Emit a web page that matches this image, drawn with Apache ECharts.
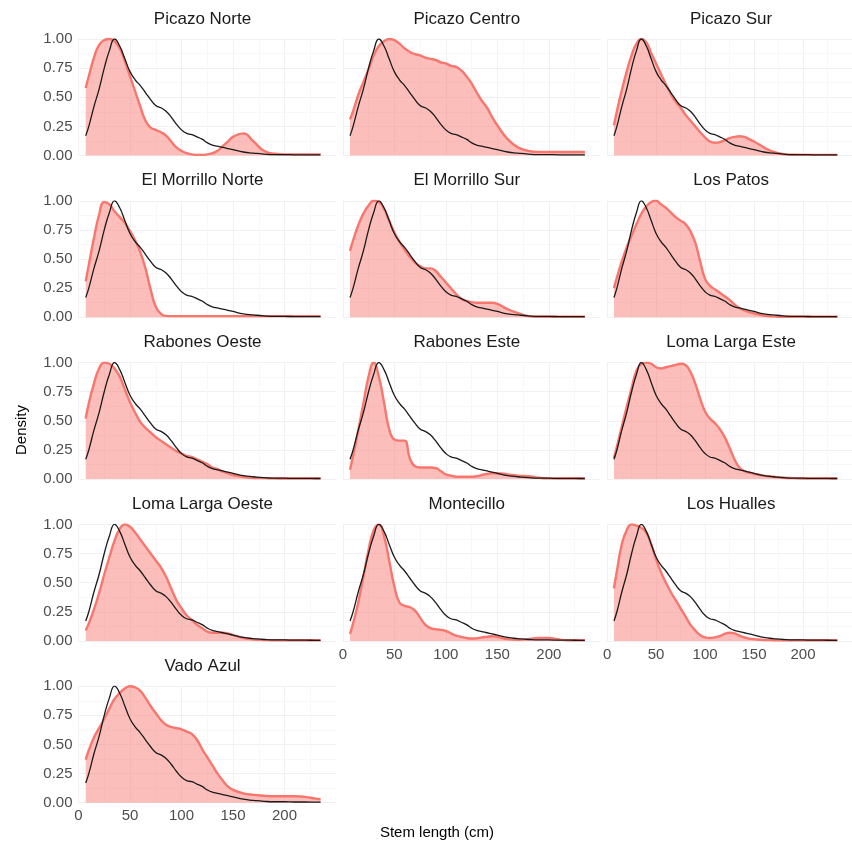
<!DOCTYPE html>
<html>
<head>
<meta charset="utf-8">
<script src="https://cdn.jsdelivr.net/npm/echarts@6/dist/echarts.min.js"></script>
<style>html,body{margin:0;padding:0;background:#fff;}#c{width:852px;height:850px;}</style>
</head>
<body>
<div id="c"></div>
<script>
// Stem length grid (cm)
const xs = [7,10,15,20,25,30,35,40,45,50,55,60,65,70,75,80,85,90,95,100,105,110,115,120,125,130,135,140,145,150,160,170,180,190,200,210,220,230,235];
const xTicks = [0,50,100,150,200];
const yTicks = [0,0.25,0.5,0.75,1];
const siteNames = ['Picazo Norte','Picazo Centro','Picazo Sur','El Morrillo Norte','El Morrillo Sur','Los Patos','Rabones Oeste','Rabones Este','Loma Larga Este','Loma Larga Oeste','Montecillo','Los Hualles','Vado Azul'];
// overall density (black line, same in every panel)
const overall = [0.17,0.25,0.42,0.57,0.75,0.9,1.0,0.94,0.83,0.72, 0.65,0.60,0.54,0.48,0.43,0.41,0.38,0.33,0.27,0.22, 0.19,0.18,0.16,0.14,0.11,0.09,0.08,0.07,0.06,0.05, 0.03,0.02,0.012,0.008,0.008,0.006,0.006,0.005,0.005];
const picazoNorte = [0.58,0.68,0.84,0.95,0.99,1.0,0.98,0.92,0.81,0.68, 0.55,0.42,0.30,0.24,0.22,0.20,0.17,0.12,0.07,0.04, 0.02,0.01,0.005,0.005,0.01,0.02,0.04,0.08,0.12,0.16, 0.19,0.12,0.04,0.015,0.01,0.01,0.01,0.01,0.01];
const picazoCentro = [0.31,0.38,0.52,0.63,0.74,0.86,0.94,0.98,1.0,0.99, 0.96,0.92,0.89,0.87,0.86,0.84,0.83,0.82,0.80,0.79, 0.77,0.76,0.73,0.68,0.62,0.54,0.47,0.41,0.33,0.26, 0.14,0.07,0.04,0.03,0.03,0.03,0.03,0.03,0.03];
const picazoSur = [0.26,0.38,0.56,0.72,0.86,0.96,1.0,0.97,0.88,0.79, 0.70,0.61,0.53,0.46,0.41,0.35,0.30,0.25,0.20,0.155, 0.12,0.11,0.115,0.13,0.15,0.16,0.165,0.16,0.14,0.12, 0.07,0.03,0.012,0.006,0.005,0.005,0.005,0.005,0.005];
const morrilloNorte = [0.31,0.45,0.68,0.88,0.99,0.97,0.91,0.86,0.81,0.74, 0.66,0.56,0.42,0.24,0.09,0.03,0.012,0.01,0.01,0.01, 0.01,0.01,0.01,0.01,0.01,0.01,0.01,0.01,0.01,0.01, 0.01,0.01,0.01,0.01,0.01,0.01,0.01,0.01,0.01];
const morrilloSur = [0.57,0.66,0.79,0.89,0.96,1.0,0.99,0.93,0.83,0.73, 0.65,0.58,0.52,0.47,0.44,0.42,0.42,0.40,0.35,0.30, 0.25,0.20,0.16,0.14,0.13,0.125,0.125,0.125,0.125,0.115, 0.07,0.035,0.01,0.005,0.005,0.005,0.005,0.005,0.005];
const losPatos = [0.25,0.34,0.48,0.60,0.70,0.80,0.89,0.95,0.99,1.0, 0.97,0.94,0.90,0.86,0.83,0.80,0.74,0.64,0.48,0.33, 0.27,0.24,0.21,0.18,0.15,0.11,0.08,0.06,0.045,0.035, 0.015,0.008,0.005,0.005,0.005,0.005,0.005,0.005,0.005];
const rabonesOeste = [0.52,0.65,0.82,0.95,1.0,0.99,0.95,0.88,0.77,0.66, 0.57,0.49,0.44,0.40,0.36,0.33,0.30,0.27,0.24,0.22, 0.20,0.19,0.17,0.15,0.13,0.10,0.085,0.065,0.05,0.035, 0.02,0.01,0.008,0.006,0.005,0.005,0.005,0.005,0.005];
const rabonesEste = [0.08,0.2,0.42,0.65,0.88,1.0,0.88,0.66,0.43,0.34, 0.33,0.33,0.18,0.11,0.10,0.10,0.10,0.095,0.07,0.04, 0.03,0.02,0.02,0.02,0.02,0.025,0.035,0.045,0.05,0.05, 0.04,0.03,0.025,0.012,0.006,0.005,0.005,0.005,0.005];
const lomaLargaEste = [0.18,0.28,0.45,0.62,0.78,0.93,0.99,1.0,0.99,0.96, 0.95,0.96,0.97,0.98,0.99,0.98,0.92,0.82,0.69,0.58, 0.52,0.48,0.43,0.36,0.27,0.17,0.10,0.07,0.055,0.045, 0.03,0.02,0.012,0.008,0.005,0.005,0.005,0.005,0.005];
const lomaLargaOeste = [0.09,0.15,0.27,0.41,0.57,0.72,0.86,0.96,1.0,0.98, 0.93,0.87,0.81,0.75,0.69,0.63,0.55,0.45,0.35,0.28, 0.22,0.18,0.14,0.11,0.08,0.07,0.07,0.07,0.065,0.05, 0.025,0.012,0.008,0.005,0.005,0.005,0.005,0.005,0.005];
const montecillo = [0.06,0.15,0.33,0.55,0.78,0.95,1.0,0.90,0.69,0.47, 0.33,0.30,0.29,0.26,0.20,0.14,0.11,0.10,0.095,0.085, 0.065,0.045,0.035,0.025,0.02,0.022,0.03,0.035,0.04,0.035, 0.015,0.01,0.015,0.025,0.025,0.012,0.006,0.005,0.005];
const losHualles = [0.45,0.60,0.83,0.95,1.0,0.99,0.97,0.93,0.83,0.70, 0.59,0.50,0.42,0.35,0.28,0.21,0.14,0.09,0.05,0.03, 0.025,0.03,0.04,0.06,0.07,0.065,0.045,0.03,0.02,0.015, 0.008,0.006,0.005,0.005,0.005,0.005,0.005,0.005,0.005];
const vadoAzul = [0.37,0.45,0.56,0.64,0.72,0.81,0.89,0.94,0.98,1.0, 0.99,0.96,0.90,0.83,0.77,0.71,0.67,0.65,0.64,0.63, 0.61,0.59,0.54,0.46,0.39,0.32,0.25,0.19,0.14,0.11, 0.08,0.067,0.06,0.055,0.055,0.055,0.05,0.035,0.03];
const siteValues = [picazoNorte,picazoCentro,picazoSur,morrilloNorte,morrilloSur,losPatos,rabonesOeste,rabonesEste,lomaLargaEste,lomaLargaOeste,montecillo,losHualles,vadoAzul];

const FONT = 'Liberation Sans, Arial, sans-serif';
const colX0 = [78.5, 342.8, 607.1];
const rowY1 = [39, 200.8, 362.6, 524.4, 686.2];
const pxPerX = 1.03, panelH = 116.5;
const RED = '#F8766D';

const grids = [], xAxes = [], yAxes = [], series = [], graphics = [];
siteNames.forEach((name, i) => {
  const col = i % 3, row = Math.floor(i / 3);
  const bottom = (i >= siteNames.length - 3);
  grids.push({left: colX0[col], top: rowY1[row], width: 250 * pxPerX, height: panelH, containLabel: false});
  xAxes.push({
    gridIndex: i, type: 'value', min: 0, max: 250, interval: 50,
    axisLine: {show: false}, axisTick: {show: false},
    axisLabel: {show: bottom, showMaxLabel: false, color: '#4d4d4d', fontSize: 15, fontFamily: FONT, margin: 6},
    splitLine: {show: true, lineStyle: {color: ['#f1f1f1','#f1f1f1','#f1f1f1','#f1f1f1','#f1f1f1','rgba(0,0,0,0)'], width: 1}},
    minorTick: {show: false, splitNumber: 2},
    minorSplitLine: {show: true, lineStyle: {color: '#f8f8f8', width: 1}}
  });
  yAxes.push({
    gridIndex: i, type: 'value', min: 0, max: 1, interval: 0.25,
    axisLine: {show: false}, axisTick: {show: false},
    axisLabel: {show: col === 0, color: '#4d4d4d', fontSize: 15, fontFamily: FONT, margin: 6, formatter: v => v.toFixed(2)},
    splitLine: {show: true, lineStyle: {color: '#f1f1f1', width: 1}},
    minorTick: {show: false, splitNumber: 2},
    minorSplitLine: {show: true, lineStyle: {color: '#f8f8f8', width: 1}}
  });
  series.push({
    type: 'line', xAxisIndex: i, yAxisIndex: i, showSymbol: false, symbol: 'none',
    smooth: 0.5,
    data: xs.map((x, k) => [x, siteValues[i][k]]),
    lineStyle: {color: RED, width: 2.4},
    areaStyle: {color: 'rgba(248,118,109,0.68)'},
    z: 2, silent: true, animation: false
  });
  series.push({
    type: 'line', xAxisIndex: i, yAxisIndex: i, showSymbol: false, symbol: 'none',
    smooth: 0.5,
    data: xs.map((x, k) => [x, overall[k]]),
    lineStyle: {color: '#1a1a1a', width: 1.3},
    z: 3, silent: true, animation: false
  });
  graphics.push({
    type: 'text', x: colX0[col] - 5 + 129, y: rowY1[row] - 20,
    style: {text: name, fill: '#1a1a1a', font: '17px ' + FONT, align: 'center', verticalAlign: 'middle'}
  });
});
graphics.push({type: 'text', x: 22, y: 430, rotation: Math.PI / 2,
  style: {text: 'Density', fill: '#000', font: '15px ' + FONT, align: 'center', verticalAlign: 'middle'}});
graphics.push({type: 'text', x: 437, y: 833,
  style: {text: 'Stem length (cm)', fill: '#000', font: '15px ' + FONT, align: 'center', verticalAlign: 'middle'}});

const chart = echarts.init(document.getElementById('c'), null, {renderer: 'canvas'});
chart.setOption({
  animation: false,
  backgroundColor: '#ffffff',
  grid: grids, xAxis: xAxes, yAxis: yAxes, series: series, graphic: graphics
});
</script>
</body>
</html>
